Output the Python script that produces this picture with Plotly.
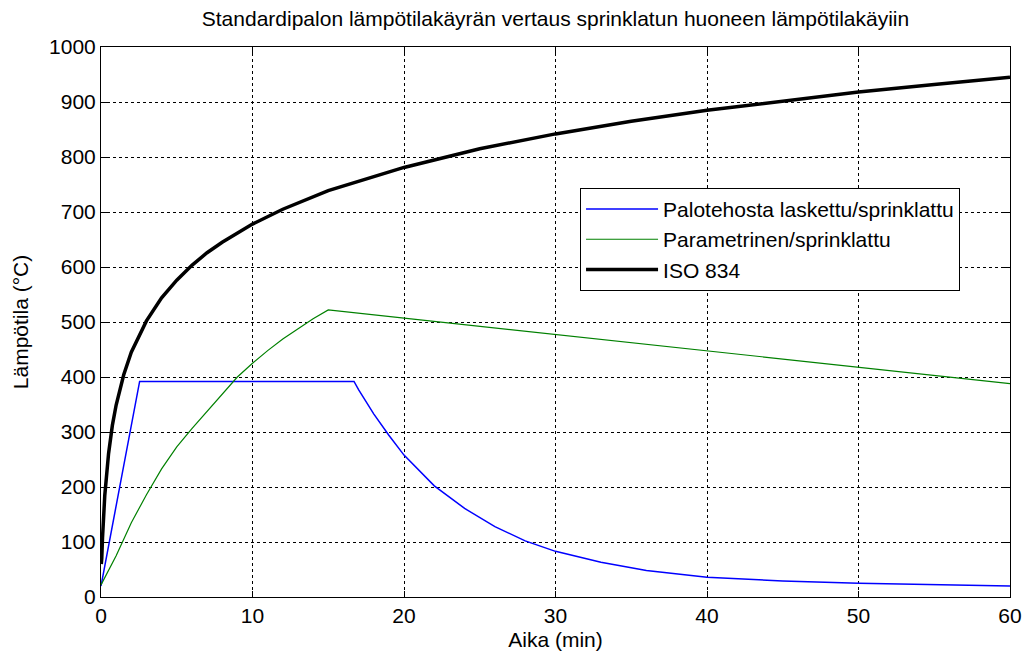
import plotly.graph_objects as go

# Palotehosta laskettu / sprinklattu (blue)
t_blue = [0, 2.55, 16.7, 17, 18, 19, 20, 22, 24, 26, 28, 30, 33, 36, 40, 45, 50, 55, 60]
T_blue = [20, 392, 392, 377, 333, 294, 258, 202, 161, 128, 102, 83, 63, 48, 36, 29, 25, 22, 20]

# Parametrinen / sprinklattu (green)
t_green = [0, 1, 2, 3, 4, 5, 6, 7, 8, 9, 10, 11, 12, 13, 14, 15, 20, 30, 40, 50, 60]
T_green = [22, 75, 135, 186, 233, 273, 306, 338, 370, 400, 425, 448, 469, 488, 506, 522,
           507, 478, 448, 418, 388]

# ISO 834 (black)
t_iso = [0.02, 0.05, 0.1, 0.25, 0.5, 0.75, 1, 1.5, 2, 3, 4, 5, 6, 7, 8, 10, 12, 15, 20,
         25, 30, 35, 40, 45, 50, 55, 60]
T_iso = [60, 70, 108, 185, 261, 312, 349, 404, 445, 502, 544, 576, 603, 626, 645, 678, 705,
         739, 781, 815, 842, 865, 885, 902, 918, 932, 945]

x_ticks = [0, 10, 20, 30, 40, 50, 60]
y_ticks = [0, 100, 200, 300, 400, 500, 600, 700, 800, 900, 1000]

FONT = "Liberation Sans, Arial, sans-serif"
FS = 21

fig = go.Figure()
fig.add_trace(go.Scatter(x=t_blue, y=T_blue, mode="lines", name="Palotehosta laskettu/sprinklattu",
                         line=dict(color="#0000FF", width=1.5)))
fig.add_trace(go.Scatter(x=t_green, y=T_green, mode="lines", name="Parametrinen/sprinklattu",
                         line=dict(color="#008000", width=1.2)))
fig.add_trace(go.Scatter(x=t_iso, y=T_iso, mode="lines", name="ISO 834",
                         line=dict(color="#000000", width=3.5)))

axis_common = dict(
    showline=True, linecolor="black", linewidth=1, mirror="ticks",
    ticks="inside", ticklen=6, tickcolor="black", tickwidth=1,
    showgrid=True, gridcolor="black", gridwidth=1, griddash="dot",
    zeroline=False, tickfont=dict(family=FONT, size=FS, color="black"),
)

fig.update_xaxes(range=[0, 60], tickvals=x_ticks, ticktext=[str(v) for v in x_ticks],
                 title=dict(text="Aika (min)", font=dict(family=FONT, size=FS, color="black"), standoff=6),
                 **axis_common)
fig.update_yaxes(range=[0, 1000], tickvals=y_ticks, ticktext=[str(v) for v in y_ticks],
                 title=dict(text="Lämpötila (°C)", font=dict(family=FONT, size=FS, color="black"), standoff=14),
                 **axis_common)

fig.update_layout(
    width=1034, height=660,
    margin=dict(l=101, r=21, t=47, b=62),
    paper_bgcolor="white", plot_bgcolor="white",
    title=dict(text="Standardipalon lämpötilakäyrän vertaus sprinklatun huoneen lämpötilakäyiin",
               x=0.5, xref="paper", xanchor="center", y=0.972, yanchor="middle",
               font=dict(family=FONT, size=FS, color="black")),
    legend=dict(x=0.527, y=0.744, xanchor="left", yanchor="top",
                bgcolor="white", bordercolor="black", borderwidth=1,
                font=dict(family=FONT, size=FS, color="black"),
                itemwidth=72, tracegroupgap=0),
    showlegend=True,
)

fig.write_html("out.html", config={"displayModeBar": False},
               post_script="document.body.style.margin='0';")
